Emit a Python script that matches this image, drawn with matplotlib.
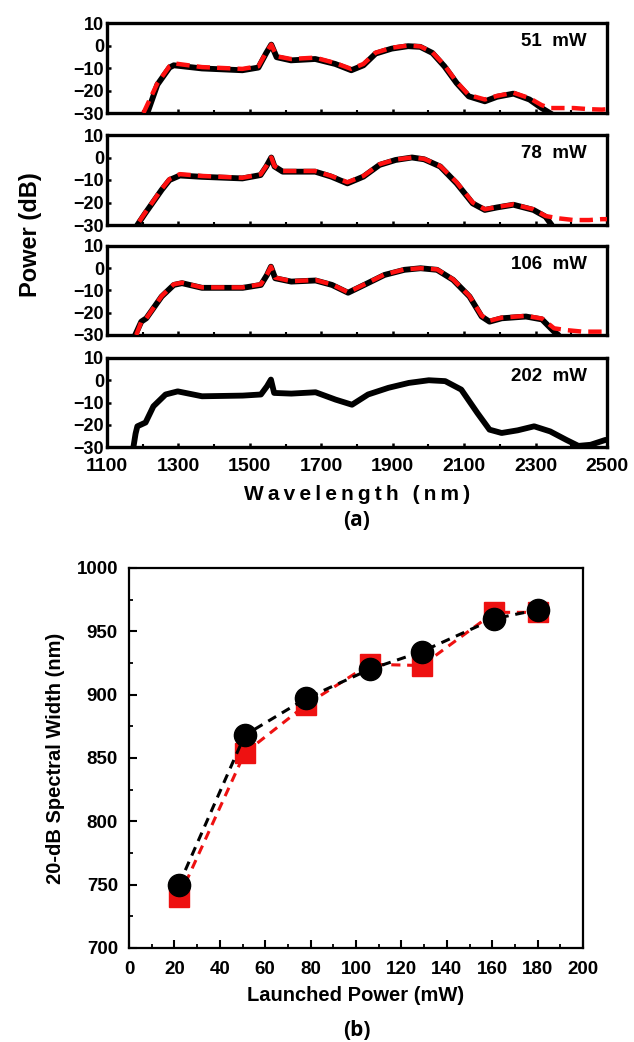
import matplotlib as mpl
mpl.use('Agg')
import matplotlib.pyplot as plt
from matplotlib.ticker import MultipleLocator

plt.rcParams['font.family'] = ['Liberation Sans', 'DejaVu Sans']

# ---- spectra (a), wavelength in nm, power in dB ----
wl_51_k = [1213, 1241, 1275, 1287, 1366, 1479, 1524, 1546, 1560, 1575, 1615, 1683, 1739, 1784,
           1818, 1852, 1897, 1943, 1977, 2011, 2045, 2079, 2113, 2158, 2192, 2238, 2283, 2317, 2345]
pw_51_k = [-30, -17.4, -9.8, -8.8, -10.2, -11.0, -9.8, -3.3, 0.4, -5.2, -6.6, -6.0, -8.2, -11.0,
           -8.8, -3.6, -1.4, -0.3, -0.6, -3.3, -9.3, -16.7, -22.6, -24.8, -22.8, -21.4, -24.0, -27.8, -30.5]
wl_51_r = [1202, 1241, 1275, 1290, 1366, 1479, 1524, 1546, 1560, 1575, 1615, 1683, 1739, 1784,
           1818, 1852, 1897, 1943, 1977, 2011, 2045, 2079, 2113, 2158, 2192, 2238, 2283, 2317,
           2340, 2362, 2407, 2450, 2486, 2500]
pw_51_r = [-30, -16.8, -9.2, -8.0, -9.6, -10.4, -9.2, -3.0, 0.4, -4.8, -6.0, -5.4, -7.8, -10.4,
           -8.2, -3.2, -1.0, 0.0, -0.4, -3.0, -8.8, -16.2, -22.0, -24.0, -22.4, -21.0, -23.4, -26.5,
           -27.8, -27.8, -27.8, -28.3, -28.5, -28.3]

wl_78_k = [1185, 1207, 1253, 1275, 1304, 1366, 1479, 1530, 1546, 1560, 1569, 1592, 1683, 1728,
           1773, 1818, 1863, 1908, 1954, 1988, 2033, 2079, 2124, 2158, 2192, 2238, 2294, 2328, 2345]
pw_78_k = [-30, -24.8, -14.4, -10.0, -8.0, -8.6, -9.3, -7.8, -4.0, 0.0, -4.0, -6.3, -6.3, -8.5,
           -11.5, -8.5, -3.3, -1.1, 0.0, -0.8, -4.0, -11.5, -20.4, -23.3, -22.2, -21.0, -23.3, -26.3, -30.0]
wl_78_r = [1190, 1207, 1253, 1275, 1304, 1366, 1479, 1530, 1546, 1560, 1569, 1592, 1683, 1728,
           1773, 1818, 1863, 1908, 1954, 1988, 2033, 2079, 2124, 2158, 2192, 2238, 2294, 2328,
           2362, 2407, 2450, 2486, 2500]
pw_78_r = [-28.5, -24.5, -14.0, -9.6, -7.4, -8.2, -9.0, -7.5, -3.8, 0.0, -3.8, -6.0, -6.0, -8.2,
           -11.0, -8.2, -3.0, -0.9, 0.0, -0.6, -3.8, -11.0, -20.0, -23.0, -22.0, -20.8, -23.0, -26.0,
           -27.0, -27.8, -27.8, -27.4, -27.4]

wl_106_k = [1179, 1196, 1210, 1253, 1287, 1310, 1366, 1480, 1531, 1548, 1559, 1571, 1616, 1684,
            1730, 1775, 1820, 1877, 1933, 1978, 2024, 2069, 2115, 2149, 2171, 2205, 2273, 2318, 2352, 2364]
pw_106_k = [-30, -24.0, -22.5, -12.7, -7.5, -6.7, -8.8, -8.8, -7.5, -3.0, 0.7, -4.5, -6.0, -5.5,
            -7.5, -11.0, -7.5, -3.0, -0.7, 0.0, -0.7, -5.2, -12.7, -21.7, -24.0, -22.5, -21.7, -23.0, -28.5, -30.0]
wl_106_r = [1182, 1196, 1210, 1253, 1287, 1310, 1366, 1480, 1531, 1548, 1559, 1571, 1616, 1684,
            1730, 1775, 1820, 1877, 1933, 1978, 2024, 2069, 2115, 2149, 2171, 2205, 2273, 2318,
            2352, 2386, 2432, 2489, 2500]
pw_106_r = [-30, -24.0, -22.5, -12.5, -7.2, -6.5, -8.6, -8.6, -7.2, -2.8, 0.7, -4.2, -5.8, -5.3,
            -7.3, -10.8, -7.3, -2.8, -0.5, 0.0, -0.5, -5.0, -12.5, -21.3, -23.6, -22.2, -21.4, -22.6,
            -27.0, -27.8, -28.5, -28.5, -28.8]

wl_202_k = [1174, 1180, 1185, 1208, 1230, 1264, 1298, 1366, 1480, 1531, 1548, 1559, 1568, 1616,
            1684, 1740, 1786, 1831, 1888, 1945, 2001, 2047, 2092, 2137, 2171, 2205, 2250, 2296,
            2341, 2386, 2420, 2454, 2496]
pw_202_k = [-30, -24.0, -20.7, -19.0, -11.7, -6.4, -5.0, -7.2, -6.9, -6.4, -2.7, 0.3, -5.7, -6.0,
            -5.4, -8.7, -11.0, -6.4, -3.4, -1.2, 0.0, -0.4, -4.2, -14.7, -22.2, -23.7, -22.5, -20.7,
            -23.0, -26.8, -29.5, -29.0, -26.8]

panel_labels = ['51 mW', '78 mW', '106 mW', '202 mW']
wl_ticks = [1100, 1300, 1500, 1700, 1900, 2100, 2300, 2500]
black_x = [wl_51_k, wl_78_k, wl_106_k, wl_202_k]
black_y = [pw_51_k, pw_78_k, pw_106_k, pw_202_k]
red_x = [wl_51_r, wl_78_r, wl_106_r, None]
red_y = [pw_51_r, pw_78_r, pw_106_r, None]

# ---- spectral width (b) ----
launched_black = [22, 51, 78, 106, 129, 161, 180]
width_black = [750, 868, 897, 920, 934, 960, 967]
launched_red = [22, 51, 78, 106, 129, 161, 180]
width_red = [740, 854, 892, 924, 923, 965, 965]

fig = plt.figure(figsize=(6.34, 10.42), dpi=100)
W, H = 634.0, 1042.0

panel_px = [(23, 113), (135, 225), (246, 335), (358, 447)]
for i, (top, bot) in enumerate(panel_px):
    ax = fig.add_axes([107 / W, 1 - bot / H, 500 / W, (bot - top) / H])
    ax.plot(black_x[i], black_y[i], color='black', lw=4.2, solid_capstyle='round', zorder=2)
    if red_x[i] is not None:
        ax.plot(red_x[i], red_y[i], color='#ff1010', lw=3.2, dashes=(3, 1.6), zorder=3)
    ax.set_xlim(1100, 2500)
    ax.set_ylim(-30, 10)
    ax.set_yticks([-30, -20, -10, 0, 10])
    ax.set_xticks(wl_ticks)
    ax.set_xticks([w + 100 for w in wl_ticks[:-1]], minor=True)
    ax.tick_params(direction='in', length=3, width=1.8, labelsize=13, pad=2)
    ax.tick_params(which='minor', direction='in', length=2, width=1.5)
    for lab in ax.get_yticklabels() + ax.get_xticklabels():
        lab.set_fontweight('bold')
    for s in ax.spines.values():
        s.set_linewidth(2.4)
    ax.text(0.96, 0.79, panel_labels[i].replace(' m', '  m'), transform=ax.transAxes,
            ha='right', va='center', fontsize=13.5, fontweight='bold')
    if i < 3:
        ax.tick_params(labelbottom=False)
    else:
        ax.tick_params(axis='x', pad=8)
        ax.set_xticklabels([str(v) for v in wl_ticks], fontsize=14, fontweight='bold')

fig.text(30 / W, 1 - 235 / H, 'Power (dB)', rotation=90, ha='center', va='center',
         fontsize=17, fontweight='bold')
fig.text(357 / W, 1 - 494 / H, '\u2009'.join('Wavelength (nm)'), ha='center', va='center',
         fontsize=15, fontweight='bold')
fig.text(357 / W, 1 - 520 / H, '(a)', ha='center', va='center', fontsize=15,
         fontweight='bold', family=['Open Sans', 'DejaVu Sans'])

# ---- panel (b) ----
bx = fig.add_axes([129 / W, 1 - 948 / H, 454 / W, 380 / H])
bx.plot(launched_red, width_red, color='#ee1111', ls=(0, (3, 2.2)), lw=2.2,
        marker='s', ms=14, mec='#ee1111', mfc='#ee1111', zorder=2)
bx.plot(launched_black, width_black, color='black', ls=(0, (3, 2.2)), lw=2.2,
        marker='o', ms=16, mec='black', mfc='black', zorder=3)
bx.set_xlim(0, 200)
bx.set_ylim(700, 1000)
bx.xaxis.set_major_locator(MultipleLocator(20))
bx.xaxis.set_minor_locator(MultipleLocator(10))
bx.yaxis.set_major_locator(MultipleLocator(50))
bx.yaxis.set_minor_locator(MultipleLocator(25))
bx.tick_params(direction='in', length=6, width=1.5, labelsize=13.5)
bx.tick_params(axis='x', pad=9)
bx.tick_params(axis='y', pad=8)
bx.tick_params(which='minor', direction='in', length=3, width=1.3)
for lab in bx.get_yticklabels() + bx.get_xticklabels():
    lab.set_fontweight('bold')
for s in bx.spines.values():
    s.set_linewidth(1.6)
bx.set_xlabel('Launched Power (mW)', fontsize=14.5, fontweight='bold', labelpad=6)
bx.set_ylabel('20-dB Spectral Width (nm)', fontsize=14.5, fontweight='bold', labelpad=8)
fig.text(357 / W, 1 - 1030 / H, '(b)', ha='center', va='center', fontsize=15,
         fontweight='bold', family=['Open Sans', 'DejaVu Sans'])

fig.savefig('out.png', dpi=100)
